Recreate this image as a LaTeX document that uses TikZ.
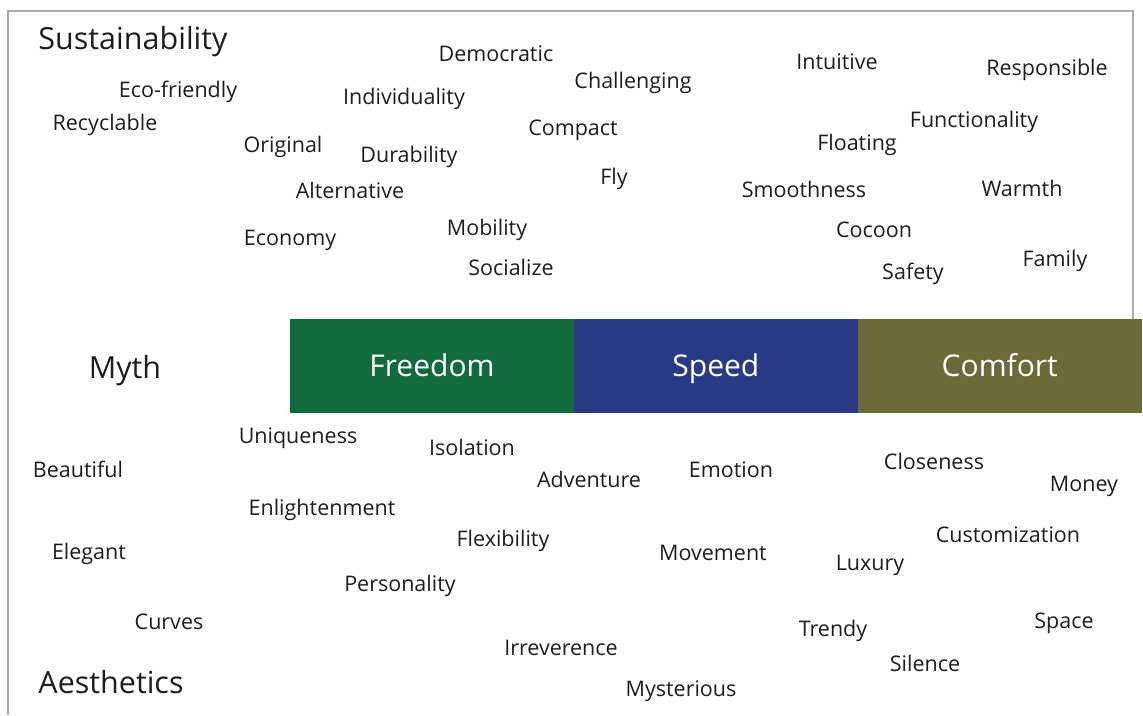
\documentclass[tikz,border=0pt]{standalone}
\usepackage{fontspec}
\setmainfont{Open Sans}
\usepackage{xcolor}
\usetikzlibrary{positioning}

\definecolor{freedomgreen}{HTML}{126B3C}
\definecolor{speedblue}{HTML}{2B3A87}
\definecolor{comfortolive}{HTML}{6B6A38}
\definecolor{framegray}{HTML}{AAAAAA}
\definecolor{wordgray}{HTML}{1E1E1E}

\tikzset{
  word/.style={inner sep=0pt, text=wordgray, font=\fontsize{21.5}{24}\selectfont,
    text height=15.5pt, text depth=0pt},
  bigword/.style={word, font=\fontsize{30.5}{34}\selectfont, text height=22pt},
  barbox/.style={minimum width=283.5pt, minimum height=94pt, inner sep=0pt,
    text=white, font=\fontsize{30}{34}\selectfont, anchor=west,
    text height=21.6pt, text depth=0pt}
}

\begin{document}
\begin{tikzpicture}[x=1pt, y=-1pt]

\useasboundingbox (0,0) rectangle (1143,715);
\draw[framegray, line width=1.2pt] (8,715) -- (8,11) -- (1133,11) -- (1133,319);

% headings
\node[bigword] (sustainability) at (133, 38) {Sustainability};
\node[bigword] (myth) at (125, 367) {Myth};
\node[bigword] (aesthetics) at (111, 682) {Aesthetics};

% the three bars
\node[barbox, fill=freedomgreen] (freedom) at (290, 366) {Freedom};
\node[barbox, fill=speedblue, right=0pt of freedom] (speed) {Speed};
\node[barbox, fill=comfortolive, right=0pt of speed] (comfort) {Comfort};

% words above the bars
\node[word] (ecofriendly) at (178, 90) {Eco-friendly};
\node[word] (recyclable) at (105, 123) {Recyclable};
\node[word] (democratic) at (496, 54) {Democratic};
\node[word] (individuality) at (404, 97) {Individuality};
\node[word] (challenging) at (633, 81) {Challenging};
\node[word] (original) at (283, 145) {Original};
\node[word] (durability) at (409, 155) {Durability};
\node[word] (compact) at (573, 128) {Compact};
\node[word] (alternative) at (350, 191) {Alternative};
\node[word] (fly) at (614, 177) {Fly};
\node[word] (economy) at (290, 238) {Economy};
\node[word] (mobility) at (487, 228) {Mobility};
\node[word] (socialize) at (511, 268) {Socialize};
\node[word] (intuitive) at (837, 62) {Intuitive};
\node[word] (responsible) at (1047, 68) {Responsible};
\node[word] (functionality) at (974, 120) {Functionality};
\node[word] (floating) at (857, 143) {Floating};
\node[word] (smoothness) at (804, 190) {Smoothness};
\node[word] (warmth) at (1022, 189) {Warmth};
\node[word] (cocoon) at (874, 230) {Cocoon};
\node[word] (family) at (1055, 259) {Family};
\node[word] (safety) at (913, 272) {Safety};

% words below the bars
\node[word] (uniqueness) at (298, 436) {Uniqueness};
\node[word] (isolation) at (472, 448) {Isolation};
\node[word] (beautiful) at (78, 470) {Beautiful};
\node[word] (adventure) at (589, 480) {Adventure};
\node[word] (emotion) at (731, 470) {Emotion};
\node[word] (closeness) at (934, 462) {Closeness};
\node[word] (money) at (1084, 484) {Money};
\node[word] (enlightenment) at (322, 508) {Enlightenment};
\node[word] (flexibility) at (503, 539) {Flexibility};
\node[word] (customization) at (1008, 535) {Customization};
\node[word] (elegant) at (89, 552) {Elegant};
\node[word] (movement) at (713, 553) {Movement};
\node[word] (luxury) at (870, 563) {Luxury};
\node[word] (personality) at (400, 584) {Personality};
\node[word] (curves) at (169, 622) {Curves};
\node[word] (trendy) at (833, 629) {Trendy};
\node[word] (space) at (1064, 621) {Space};
\node[word] (irreverence) at (561, 648) {Irreverence};
\node[word] (silence) at (925, 664) {Silence};
\node[word] (mysterious) at (681, 689) {Mysterious};

\end{tikzpicture}
\end{document}
